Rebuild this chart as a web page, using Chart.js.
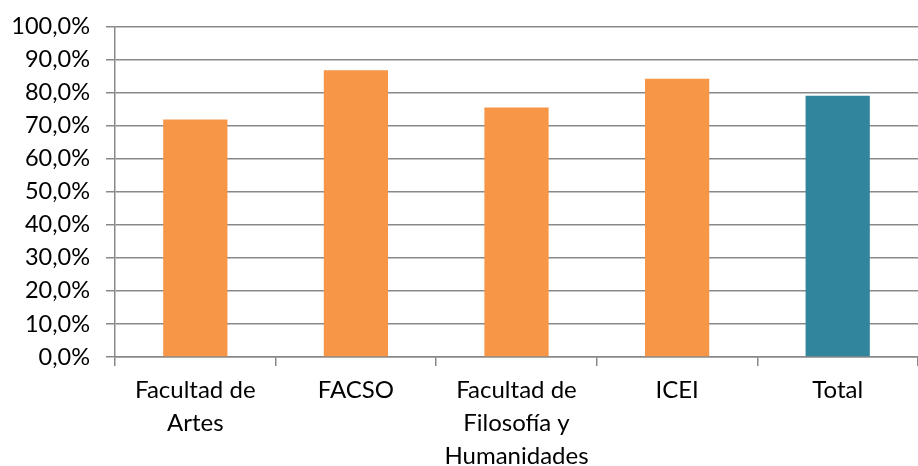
<!DOCTYPE html>
<html>
<head>
<meta charset="utf-8">
<script src="https://cdn.jsdelivr.net/npm/chart.js@4"></script>
<style>
html,body{margin:0;padding:0;background:#fff;}
#wrap{width:918px;height:466px;position:relative;}
</style>
</head>
<body>
<div id="wrap"><canvas id="c"></canvas></div>
<script>
const categories = [["Facultad de","Artes"],"FACSO",["Facultad de","Filosofía y","Humanidades"],"ICEI","Total"];
const values = [71.9, 86.8, 75.5, 84.2, 79.1];
const barColors = ["#F79646","#F79646","#F79646","#F79646","#31859C"];
const yMin = 0, yMax = 100, yStep = 10;

const FONT = "Lato, 'Open Sans', sans-serif";
new Chart(document.getElementById('c'), {
  type: 'bar',
  data: {
    labels: categories,
    datasets: [{
      data: values,
      backgroundColor: barColors,
      borderWidth: 0,
      categoryPercentage: 1.0,
      barPercentage: 0.40
    }]
  },
  options: {
    responsive: true,
    maintainAspectRatio: false,
    animation: false,
    layout: { padding: { top: 25, right: 0, left: 0, bottom: 0 } },
    plugins: { legend: { display: false }, tooltip: { enabled: false } },
    scales: {
      x: {
        offset: true,
        grid: { display: true, offset: true, drawOnChartArea: false, color: '#898989', lineWidth: 1.5, tickLength: 9 },
        border: { display: true, color: '#898989', width: 1.5 },
        ticks: { color: '#000', font: { family: FONT, size: 24, lineHeight: 1.37 }, padding: 8, maxRotation: 0, autoSkip: false },
        afterFit: s => { s.height = 109; }
      },
      y: {
        min: yMin, max: yMax,
        grid: { color: '#898989', lineWidth: 1.5, tickLength: 9 },
        border: { display: true, color: '#898989', width: 1.5 },
        ticks: {
          stepSize: yStep, color: '#000', font: { family: FONT, size: 23.5, lineHeight: 0.9 }, padding: 16,
          callback: v => v.toFixed(1).replace('.', ',') + '%'
        },
        afterFit: s => { s.width = 115; }
      }
    }
  }
});
</script>
</body>
</html>
